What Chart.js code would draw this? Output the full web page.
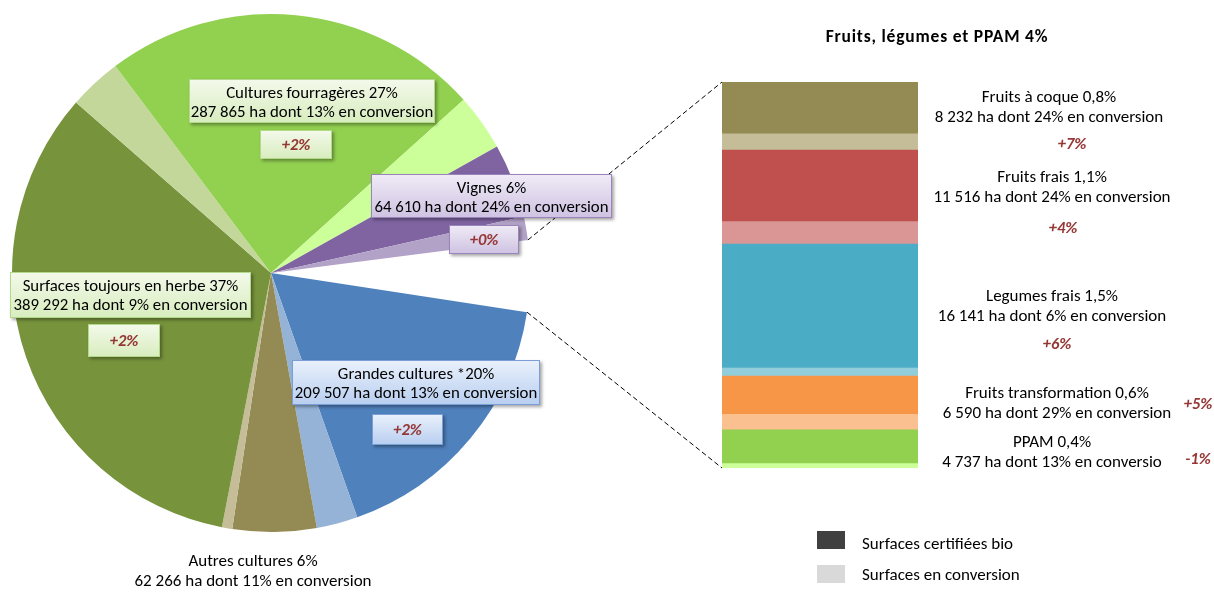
<!DOCTYPE html>
<html lang="fr">
<head>
<meta charset="utf-8">
<script src="https://cdn.jsdelivr.net/npm/chart.js@4"></script>
<style>
  body { margin: 0; background: #fff; font-family: Carlito, Lato, sans-serif; color: #000; }
  #wrap { position: relative; width: 1214px; height: 592px; overflow: hidden; }
  canvas { position: absolute; left: 0; top: 0; }
  .box { position: absolute; box-sizing: border-box; text-align: center; font-size: 16.8px; line-height: 19px; padding-top: 3px; white-space: nowrap; box-shadow: 2px 2px 3px rgba(0,0,0,0.35); }
  .evo { position: absolute; box-sizing: border-box; text-align: center; font-size: 16.5px; font-weight: bold; font-style: italic; color: #953735; box-shadow: 2px 2px 3px rgba(0,0,0,0.35); }
  .vert { background: linear-gradient(#f3f9ea, #d8edbf); border: 1px solid #b5d98a; }
  .violet { background: linear-gradient(#efeaf6, #cfc3e2); border: 1px solid #9a84bc; }
  .bleu { background: linear-gradient(#e9f0fb, #b9cff0); border: 1px solid #7a9fd6; }
  .txt { position: absolute; font-size: 17px; line-height: 20px; text-align: center; white-space: nowrap; transform: translateX(-50%); }
  .red { position: absolute; font-size: 16.5px; font-weight: bold; font-style: italic; color: #953735; transform: translateX(-50%); }
  .leg { position: absolute; font-size: 17px; white-space: nowrap; }
  .sq { position: absolute; width: 28px; height: 18px; }
</style>
</head>
<body>
<div id="wrap">
  <canvas id="camembert" width="1214" height="592"></canvas>
  <canvas id="barre" width="1214" height="592"></canvas>
  <div id="labels"></div>
</div>
<script>
// Camembert : surfaces bio par orientation (ha) et part en conversion (%)
const pieCategories = ['Grandes cultures *', 'Autres cultures', 'Surfaces toujours en herbe', 'Cultures fourragères', 'Vignes', 'Fruits, légumes et PPAM'];
const pieSurfaces = [209507, 62266, 389292, 287865, 64610, 47216];
const pieConversion = [13, 11, 9, 13, 24, 0];
const pieParts = ['20%', '6%', '37%', '27%', '6%', '4%'];
const pieEvolution = ['+2%', '', '+2%', '+2%', '+0%', ''];
const pieCouleurs = ['#4F81BD', '#948A54', '#77933C', '#92D050', '#8064A2', 'rgba(0,0,0,0)'];
const pieCouleursConv = ['#95B3D7', '#C4BD97', '#C4D79B', '#CCFF99', '#B3A2C7', 'rgba(0,0,0,0)'];

// Barre : détail fruits, légumes et PPAM
const barCategories = ['Fruits à coque', 'Fruits frais', 'Legumes frais', 'Fruits transformation', 'PPAM'];
const barSurfaces = [8232, 11516, 16141, 6590, 4737];
const barConversion = [24, 24, 6, 29, 13];
const barParts = ['0,8%', '1,1%', '1,5%', '0,6%', '0,4%'];
const barEvolution = ['+7%', '+4%', '+6%', '+5%', '-1%'];
const barCouleurs = ['#948A54', '#C0504D', '#4BACC6', '#F79646', '#92D050'];
const barCouleursConv = ['#C4BD97', '#D99694', '#92CDDC', '#FAC090', '#CCFF99'];

const fmt = n => n.toLocaleString('fr-FR').replace(/\s/g, ' ');

// tranches : certifié puis conversion, le groupe FL&PPAM reste vide
const pieData = [], pieColors = [];
pieCategories.forEach((c, i) => {
  if (i === pieCategories.length - 1) {
    pieData.push(pieSurfaces[i]);
    pieColors.push(pieCouleurs[i]);
  } else {
    const conv = pieSurfaces[i] * pieConversion[i] / 100;
    pieData.push(pieSurfaces[i] - conv, conv);
    pieColors.push(pieCouleurs[i], pieCouleursConv[i]);
  }
});

const pieChart = new Chart(document.getElementById('camembert'), {
  type: 'pie',
  data: {
    labels: pieData.map((v, i) => i),
    datasets: [{ data: pieData, backgroundColor: pieColors, borderWidth: 0 }]
  },
  options: {
    responsive: false,
    animation: false,
    rotation: 98.7,
    layout: { padding: { left: 12, top: 14, right: 684, bottom: 60 } },
    plugins: { legend: { display: false }, tooltip: { enabled: false } }
  }
});

const barTotal = barSurfaces.reduce((a, b) => a + b, 0);
const barDatasets = [];
barCategories.forEach((c, i) => {
  const conv = barSurfaces[i] * barConversion[i] / 100;
  barDatasets.push({ label: c, data: [barSurfaces[i] - conv], backgroundColor: barCouleurs[i] });
  barDatasets.push({ label: c + ' conversion', data: [conv], backgroundColor: barCouleursConv[i] });
});

const connecteurs = {
  id: 'connecteurs',
  afterDraw(chart) {
    const arc = pieChart.getDatasetMeta(0).data[pieData.length - 1];
    const first = chart.getDatasetMeta(0).data[0];
    const last = chart.getDatasetMeta(barDatasets.length - 1).data[0];
    const left = first.x - first.width / 2;
    const top = Math.min(first.y, first.base);
    const bottom = Math.max(last.y, last.base);
    const r = arc.outerRadius;
    const ctx = chart.ctx;
    ctx.save();
    ctx.strokeStyle = '#000';
    ctx.lineWidth = 1;
    ctx.setLineDash([5, 3]);
    ctx.beginPath();
    ctx.moveTo(arc.x + r * Math.cos(arc.startAngle), arc.y + r * Math.sin(arc.startAngle));
    ctx.lineTo(left, top);
    ctx.moveTo(arc.x + r * Math.cos(arc.endAngle), arc.y + r * Math.sin(arc.endAngle));
    ctx.lineTo(left, bottom);
    ctx.stroke();
    ctx.restore();
  }
};

new Chart(document.getElementById('barre'), {
  type: 'bar',
  data: { labels: ['FL&PPAM'], datasets: barDatasets },
  options: {
    responsive: false,
    animation: false,
    layout: { padding: { left: 722, right: 296, top: 82, bottom: 124 } },
    datasets: { bar: { barPercentage: 1, categoryPercentage: 1, borderWidth: 0 } },
    scales: {
      x: { stacked: true, display: false },
      y: { stacked: true, display: false, reverse: true, min: 0, max: barTotal }
    },
    plugins: { legend: { display: false }, tooltip: { enabled: false } }
  },
  plugins: [connecteurs]
});

// étiquettes
const labels = document.getElementById('labels');
function add(html) { labels.insertAdjacentHTML('beforeend', html); }
function ligne2(i) { return fmt(pieSurfaces[i]) + ' ha dont ' + pieConversion[i] + '% en conversion'; }

const pieBoxes = [
  { i: 3, cls: 'vert', box: [189, 79, 246, 44], evo: [260, 130, 72, 29] },
  { i: 4, cls: 'violet', box: [371, 174, 241, 44], evo: [449, 225, 70, 29] },
  { i: 2, cls: 'vert', box: [10, 272, 241, 46], evo: [88, 324, 72, 33] },
  { i: 0, cls: 'bleu', box: [292, 360, 248, 45], evo: [372, 414, 71, 31] }
];
pieBoxes.forEach(b => {
  const [x, y, w, h] = b.box;
  add(`<div class="box ${b.cls}" style="left:${x}px;top:${y}px;width:${w}px;height:${h}px">${pieCategories[b.i]}${b.i === 0 ? '' : ' '}${pieParts[b.i]}<br>${ligne2(b.i)}</div>`);
  const [ex, ey, ew, eh] = b.evo;
  add(`<div class="evo ${b.cls}" style="left:${ex}px;top:${ey}px;width:${ew}px;height:${eh}px;line-height:${eh - 2}px">${pieEvolution[b.i]}</div>`);
});
add(`<div class="txt" style="left:253px;top:551px">${pieCategories[1]} ${pieParts[1]}<br>${ligne2(1)}</div>`);

add(`<div class="txt" style="left:937px;top:26px;font-weight:bold;font-size:17.5px;letter-spacing:0.8px">${pieCategories[5]} ${pieParts[5]}</div>`);

const barLabelPos = [[1049, 87, 1072, 133], [1052, 167, 1063, 217], [1052, 286, 1057, 333], [1057, 383, 1198, 393], [1052, 432, 1198, 448]];
barCategories.forEach((c, i) => {
  const [x, y, ex, ey] = barLabelPos[i];
  let l2 = fmt(barSurfaces[i]) + ' ha dont ' + barConversion[i] + '% en conversion';
  if (i === 4) l2 = l2.slice(0, -1);
  add(`<div class="txt" style="left:${x}px;top:${y}px">${c} ${barParts[i]}<br>${l2}</div>`);
  add(`<div class="red" style="left:${ex}px;top:${ey}px">${barEvolution[i]}</div>`);
});

add(`<div class="sq" style="left:817px;top:531px;background:#404040"></div><div class="leg" style="left:862px;top:533px">Surfaces certifiées bio</div>`);
add(`<div class="sq" style="left:817px;top:565px;background:#D9D9D9"></div><div class="leg" style="left:862px;top:564px">Surfaces en conversion</div>`);
</script>
</body>
</html>
